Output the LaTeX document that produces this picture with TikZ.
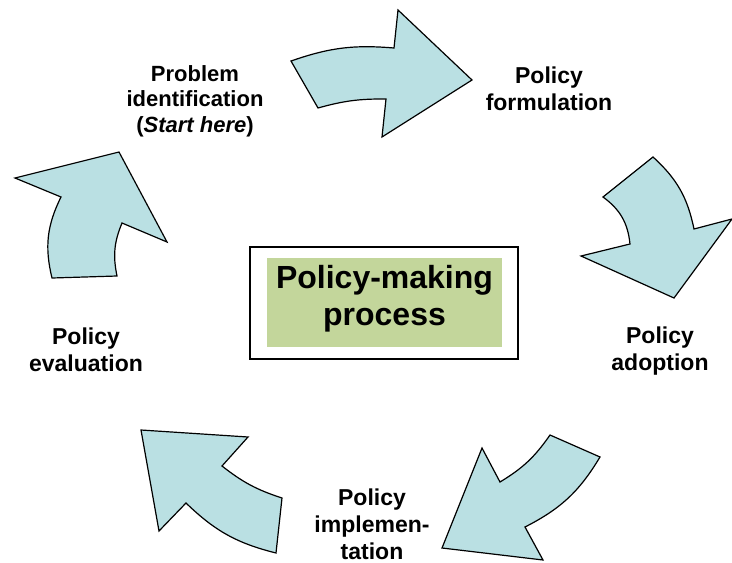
\documentclass[tikz,border=0pt]{standalone}
\usepackage{fontspec}
\setmainfont{Liberation Sans}
\definecolor{arrowblue}{RGB}{186,224,227}
\definecolor{boxgreen}{RGB}{195,214,155}
\begin{document}
\begin{tikzpicture}[x=1pt,y=-1pt,
  blob/.style={draw,fill=arrowblue,line width=1.2pt,line join=miter},
  stage/.style={align=center,font=\bfseries\fontsize{23}{27}\selectfont}]
\useasboundingbox (0,0) rectangle (732,563);

% curved arrows of the cycle
\path[blob] (291,61) to[bend left=12] (394,48) -- (398,10) -- (472,80) -- (382,137)
  -- (386,99) to[bend right=8] (318,108) -- cycle;
\path[blob] (653,157) to[bend left=18] (694,229) -- (732,219) -- (674,298) -- (581,256)
  -- (630,244) to[bend right=24] (603,197) -- cycle;
\path[blob] (550,435) -- (600,457) to[bend left=16] (525,527) -- (543,560) -- (442,548)
  -- (482,448) -- (500,482) to[bend right=12] cycle;
\path[blob] (141,430) -- (248,437) -- (222,466) to[bend right=10] (282,498) -- (276,553)
  to[bend left=15] (186,503) -- (159,531) -- cycle;
\path[blob] (15,178) -- (119,152) -- (167,242) -- (122,223) to[bend right=17] (117,276)
  -- (52,278) to[bend left=20] (61,197) -- cycle;

% centre box
\node[draw,line width=1.6pt,minimum width=268pt,minimum height=112pt] (frame) at (384,303) {};
\node[fill=boxgreen,minimum width=235pt,minimum height=89pt] (panel) at (384.5,302.5) {};
\node[align=center,font=\bfseries\fontsize{32}{37}\selectfont] (title) at (384.5,299) {Policy-making\\process};

% stage labels
\node[stage,font=\bfseries\fontsize{22}{25.5}\selectfont] (ident) at (195,101) {Problem\\identification\\(\textit{Start here})};
\node[stage] (formul) at (549,89) {Policy\\formulation};
\node[stage] (adopt) at (660,351) {Policy\\adoption};
\node[stage] (implem) at (372,524) {Policy\\implemen-\\tation};
\node[stage] (evalu) at (86,350) {Policy\\evaluation};
\end{tikzpicture}
\end{document}
